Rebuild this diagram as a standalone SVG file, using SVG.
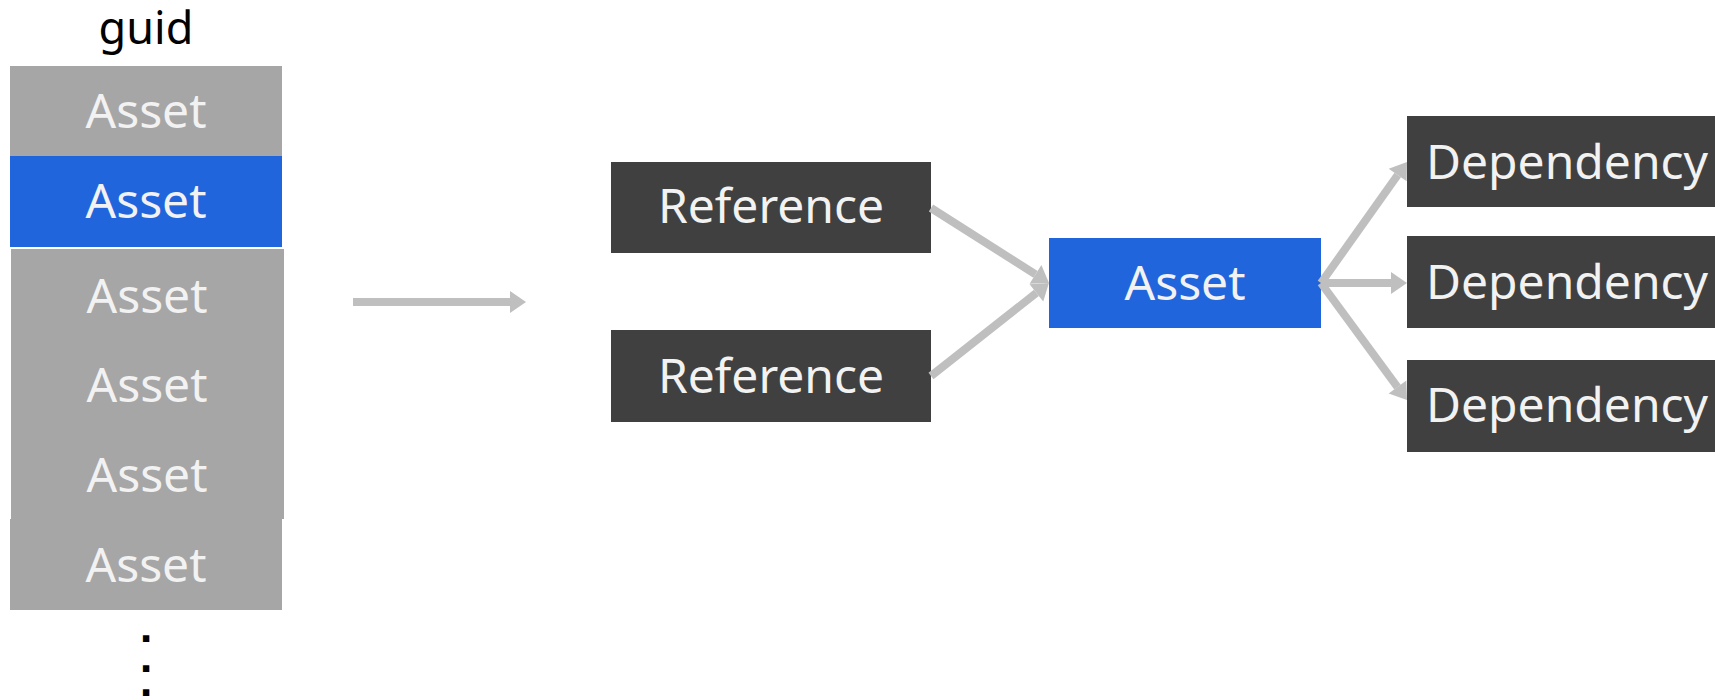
<svg xmlns="http://www.w3.org/2000/svg" width="1715" height="698" viewBox="0 0 1715 698">
  <style>
    .lbl { font-family: "Noto Sans", "Open Sans", sans-serif; font-size: 48px; fill: #f2f2f2; text-anchor: middle; }
    .grey { fill: #a6a6a6; }
    .blue { fill: #2165dc; }
    .dark { fill: #404040; }
    .edge { stroke: #bfbfbf; stroke-width: 8; fill: none; marker-end: url(#head); }
    .dots { font-family: "DejaVu Sans", sans-serif; font-size: 36px; font-weight: bold; fill: #000; text-anchor: middle; }
  </style>
  <defs>
    <marker id="head" markerUnits="userSpaceOnUse" markerWidth="16" markerHeight="22" viewBox="0 0 16 22" refX="0" refY="11" orient="auto" overflow="visible">
      <path d="M0,0 L16,11 L0,22 Z" fill="#bfbfbf"/>
    </marker>
  </defs>
  <rect width="1715" height="698" fill="#ffffff"/>

  <!-- guid table -->
  <g id="guid-table">
    <text x="146" y="44" style="font-family: 'Noto Sans', sans-serif; font-size: 45px; fill: #000; text-anchor: middle;">guid</text>
    <g id="row1"><rect class="grey" x="10" y="66" width="272" height="90"/><text class="lbl" x="146" y="128">Asset</text></g>
    <g id="row2"><rect class="blue" x="10" y="156" width="272" height="91"/><text class="lbl" x="146" y="218">Asset</text></g>
    <g id="rows3-5">
      <rect class="grey" x="11" y="249" width="273" height="270"/>
      <text class="lbl" x="147" y="313">Asset</text>
      <text class="lbl" x="147" y="402">Asset</text>
      <text class="lbl" x="147" y="492">Asset</text>
    </g>
    <g id="row6"><rect class="grey" x="10" y="519" width="272" height="91"/><text class="lbl" x="146" y="582">Asset</text></g>
    <!-- vertical ellipsis: more rows follow -->
    <text id="more" class="dots"><tspan x="146" y="642">.</tspan><tspan x="146" y="672">.</tspan><tspan x="146" y="696">.</tspan></text>
  </g>

  <!-- graph nodes -->
  <g id="ref1"><rect class="dark" x="611" y="162" width="320" height="91"/><text class="lbl" x="771" y="223">Reference</text></g>
  <g id="ref2"><rect class="dark" x="611" y="330" width="320" height="92"/><text class="lbl" x="771" y="393">Reference</text></g>
  <g id="asset"><rect class="blue" x="1049" y="238" width="272" height="90"/><text class="lbl" x="1185" y="300">Asset</text></g>
  <g id="dep1"><rect class="dark" x="1407" y="116" width="320" height="91"/><text class="lbl" x="1567" y="179">Dependency</text></g>
  <g id="dep2"><rect class="dark" x="1407" y="236" width="320" height="92"/><text class="lbl" x="1567" y="299">Dependency</text></g>
  <g id="dep3"><rect class="dark" x="1407" y="360" width="320" height="92"/><text class="lbl" x="1567" y="422">Dependency</text></g>

  <!-- connectors -->
  <g id="connectors">
    <line class="edge" x1="353" y1="302" x2="510" y2="302"/>
    <line class="edge" x1="931" y1="208" x2="1035.5" y2="274.4"/>
    <line class="edge" x1="931" y1="376" x2="1036.4" y2="292.9"/>
    <line class="edge" x1="1321" y1="283" x2="1397.7" y2="175"/>
    <line class="edge" x1="1321" y1="283" x2="1391" y2="283"/>
    <line class="edge" x1="1321" y1="283" x2="1397.5" y2="387.1"/>
  </g>
</svg>
